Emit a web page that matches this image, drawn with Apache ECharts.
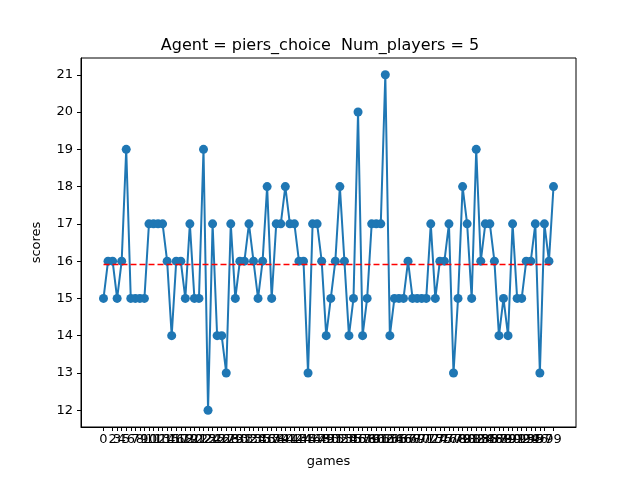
<!DOCTYPE html>
<html><head><meta charset="utf-8">
<script src="https://cdn.jsdelivr.net/npm/echarts@6/dist/echarts.min.js"></script>
<style>html,body{margin:0;padding:0;background:#fff}#c{width:640px;height:480px}</style>
</head><body><div id="c"></div>
<script>
// scores per game
const scores = [15,16,16,15,16,19,15,15,15,15,17,17,17,17,16,14,16,16,15,17,
  15,15,19,12,17,14,14,13,17,15,16,16,17,16,15,16,18,15,17,17,
  18,17,17,16,16,13,17,17,16,14,15,16,18,16,14,15,20,14,15,17,
  17,17,21,14,15,15,15,16,15,15,15,15,17,15,16,16,17,13,15,18,
  17,15,19,16,17,17,16,14,15,14,17,15,15,16,16,17,13,17,16,18];
const games = scores.map((v, i) => i);
const yTicks = [12,13,14,15,16,17,18,19,20,21];
const mean = scores.reduce((a, b) => a + b, 0) / scores.length;

const font = 'DejaVu Sans';
const chart = echarts.init(document.getElementById('c'));
chart.setOption({
  animation: false,
  title: {text: 'Agent = piers_choice  Num_players = 5', left: 'center', top: 33,
    textStyle: {fontFamily: font, fontSize: 16, fontWeight: 'normal', color: '#000'}},
  grid: {left: 81, right: 64, top: 58, bottom: 53, show: true, borderColor: '#000', borderWidth: 1},
  xAxis: {
    type: 'value', min: -4.95, max: 103.95,
    name: 'games', nameLocation: 'middle', nameGap: 28,
    nameTextStyle: {fontFamily: font, fontSize: 13, color: '#000'},
    splitLine: {show: false},
    axisLine: {onZero: false, lineStyle: {color: '#000'}},
    axisTick: {customValues: games, length: 4, lineStyle: {color: '#000'}},
    axisLabel: {customValues: games, hideOverlap: false, showMinLabel: true, showMaxLabel: true,
      fontFamily: font, fontSize: 13, color: '#000', margin: 6}
  },
  yAxis: {
    type: 'value', min: 11.55, max: 21.45,
    name: 'scores', nameLocation: 'middle', nameGap: 38,
    nameTextStyle: {fontFamily: font, fontSize: 13, color: '#000'},
    splitLine: {show: false},
    axisLine: {show: true, onZero: false, lineStyle: {color: '#000'}},
    axisTick: {customValues: yTicks, length: 4, lineStyle: {color: '#000'}},
    axisLabel: {customValues: yTicks, fontFamily: font, fontSize: 13, color: '#000', margin: 8}
  },
  series: [
    {type: 'line', data: games.map(i => [i, scores[i]]), symbol: 'circle', symbolSize: 9,
     lineStyle: {color: '#1f77b4', width: 2}, itemStyle: {color: '#1f77b4'}, z: 2},
    {type: 'line', data: [[0, mean], [99, mean]], symbol: 'none',
     lineStyle: {color: '#ff0000', width: 1.5, type: [6, 3]}, z: 3}
  ]
});
</script></body></html>
